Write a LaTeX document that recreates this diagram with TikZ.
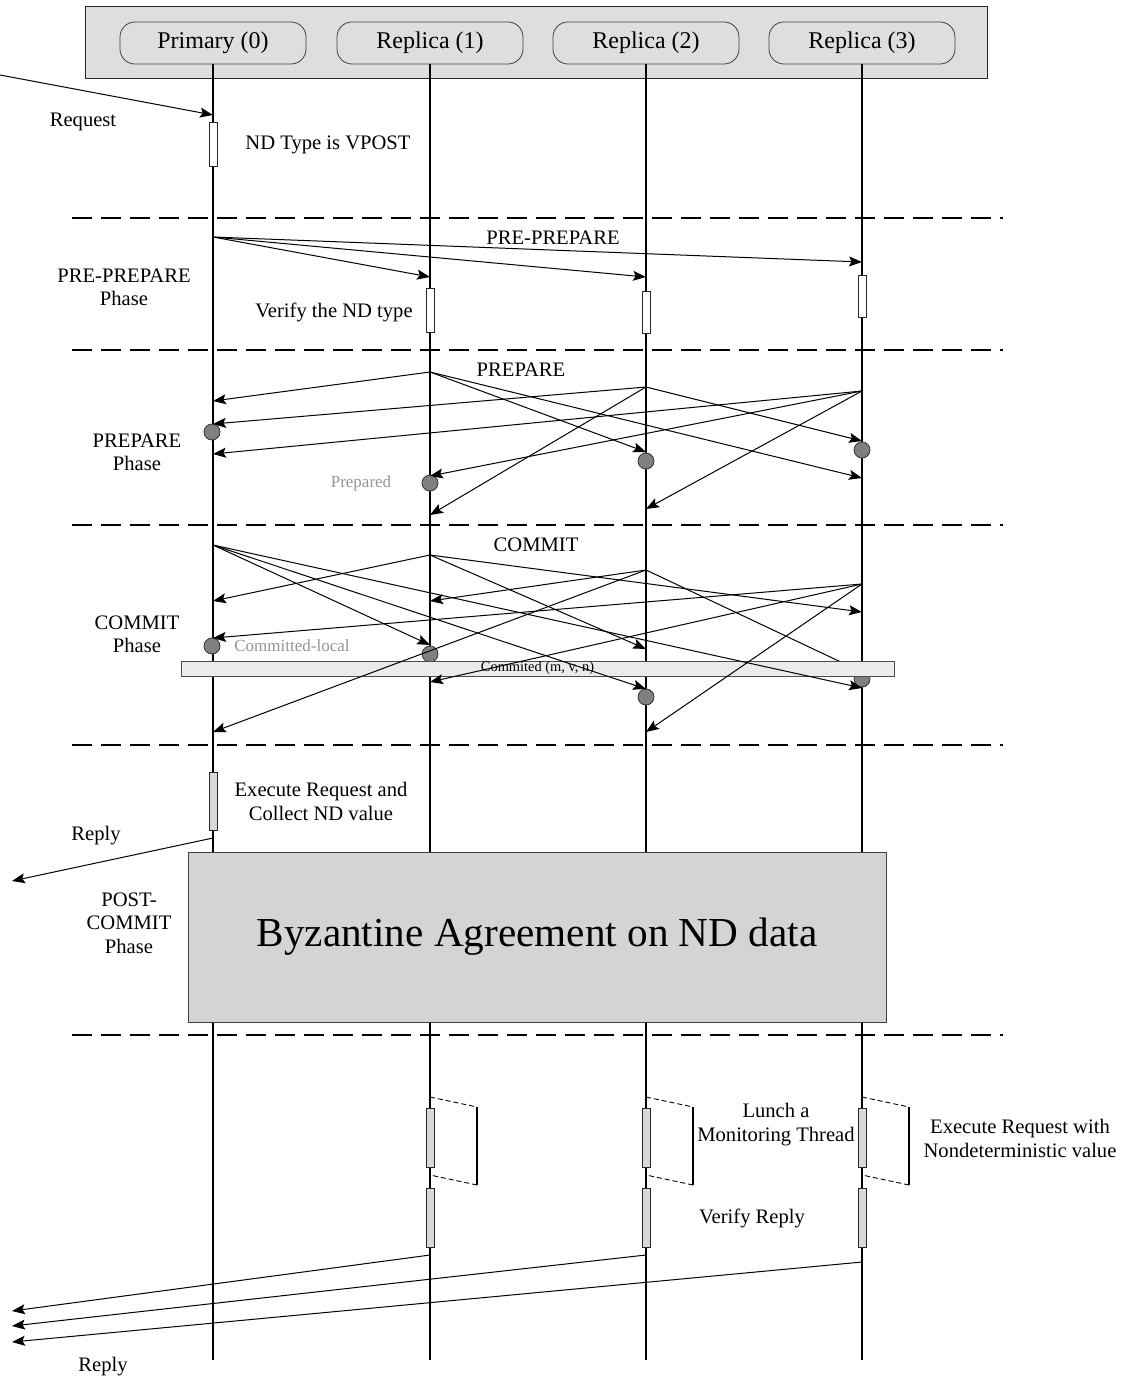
\documentclass[tikz,border=0pt]{standalone}
\usepackage{fontspec}
\setmainfont{Liberation Serif}
\usetikzlibrary{arrows.meta}
\begin{document}
\begin{tikzpicture}[x=0.5pt,y=-0.5pt,
  lifeline/.style={line width=0.75pt,black},
  msg/.style={line width=0.5pt,-{Stealth[length=6.5pt,width=5pt,inset=1.3pt]}},
  phaseline/.style={line width=1pt,dash pattern=on 10pt off 4.5pt},
  actor/.style={draw=black!75,fill=black!13,rounded corners=7.5pt,minimum width=93pt,minimum height=21pt,inner sep=0,font=\fontsize{12}{14}\selectfont},
  actw/.style={draw=black!85,fill=white,line width=0.5pt,minimum width=4pt,inner sep=0},
  actg/.style={draw=black!85,fill=black!15,line width=0.5pt,minimum width=4pt,inner sep=0},
  dot/.style={circle,draw=black!80,fill=black!50,line width=0.4pt,minimum size=8pt,inner sep=0},
  lbl/.style={inner sep=0,align=center,font=\fontsize{10.3}{12}\selectfont},
  note/.style={inner sep=0,text=black!42,font=\fontsize{8.5}{10}\selectfont},
  brk/.style={line width=0.45pt,dash pattern=on 2.5pt off 1.5pt},
  brkside/.style={line width=0.6pt}]
\useasboundingbox (0,0) rectangle (1129,1380);

% participants
\node[draw=black!85,fill=black!13,line width=0.5pt,minimum width=451pt,minimum height=36pt,inner sep=0] (hdr) at (536,43) {};
\node[actor] (a0) at (213,43) {Primary (0)};
\node[actor] (a1) at (430,43) {Replica (1)};
\node[actor] (a2) at (646,43) {Replica (2)};
\node[actor] (a3) at (862,43) {Replica (3)};
\coordinate (e0) at (213,1360);
\coordinate (e1) at (430,1360);
\coordinate (e2) at (646,1360);
\coordinate (e3) at (862,1360);
\foreach \i in {0,...,3} \draw[lifeline] (a\i.south) -- (e\i);

% phase separators
\foreach \k/\yy in {1/218,2/350,3/525,4/745,5/1035} {
  \coordinate (sep\k-l) at (72,\yy);
  \coordinate (sep\k-r) at (1003,\yy);
  \draw[phaseline] (sep\k-l) -- (sep\k-r);
}

% request
\coordinate (client-in) at (0,75);
\coordinate (req-p) at (213,115);
\draw[msg] (client-in) -- (req-p);
\node[lbl] (t-req) at (83,122) {Request};
\node[actw,minimum height=22pt] (act-nd) at (213,145) {};
\node[lbl] (t-nd) at (328,145) {ND Type is VPOST};

% PRE-PREPARE
\coordinate (pp-src) at (213,237);
\coordinate (pp-r1) at (430,277);
\coordinate (pp-r2) at (646,277);
\coordinate (pp-r3) at (862,262);
\foreach \t in {r1,r2,r3} \draw[msg] (pp-src) -- (pp-\t);
\node[actw,minimum height=22pt] (act-v1) at (430,310) {};
\node[actw,minimum height=21pt] (act-v2) at (646,312) {};
\node[actw,minimum height=21pt] (act-v3) at (862,296) {};
\node[lbl] (t-pp) at (553,238) {PRE-PREPARE};
\node[lbl,font=\fontsize{10.3}{11.5}\selectfont] (t-ppph) at (124,287) {PRE-PREPARE\\Phase};
\node[lbl] (t-ver) at (334,312) {Verify the ND type};

% PREPARE
\coordinate (pr-s1) at (430,372);
\coordinate (pr-s2) at (646,387);
\coordinate (pr-s3) at (862,391);
\coordinate (pr-1to0) at (213,401);
\coordinate (pr-1to2) at (646,452);
\coordinate (pr-1to3) at (862,478);
\coordinate (pr-2to0) at (213,424);
\coordinate (pr-2to1) at (430,515);
\coordinate (pr-2to3) at (862,441);
\coordinate (pr-3to0) at (213,454);
\coordinate (pr-3to1) at (430,476);
\coordinate (pr-3to2) at (646,509);
\node[dot] (pd0) at (212,432) {};
\node[dot] (pd1) at (430,483) {};
\node[dot] (pd2) at (646,461) {};
\node[dot] (pd3) at (862,450) {};
\foreach \s/\t in {1/0,1/2,1/3,2/0,2/1,2/3,3/0,3/1,3/2}
  \draw[msg] (pr-s\s) -- (pr-\s to\t);
\node[lbl] (t-pr) at (521,370) {PREPARE};
\node[lbl,font=\fontsize{10.3}{11.5}\selectfont] (t-prph) at (137,452) {PREPARE\\Phase};
\node[note] (t-prepared) at (361,483) {Prepared};

% COMMIT
\coordinate (cm-s0) at (213,545);
\coordinate (cm-s1) at (430,555);
\coordinate (cm-s2) at (646,570);
\coordinate (cm-s3) at (862,584);
\coordinate (cm-0to1) at (430,645);
\coordinate (cm-0to2) at (646,689);
\coordinate (cm-0to3) at (862,688);
\coordinate (cm-1to0) at (213,601);
\coordinate (cm-1to2) at (646,649);
\coordinate (cm-1to3) at (862,612);
\coordinate (cm-2to0) at (213,732);
\coordinate (cm-2to1) at (430,601);
\coordinate (cm-2to3) at (862,672);
\coordinate (cm-3to0) at (213,638);
\coordinate (cm-3to1) at (430,682);
\coordinate (cm-3to2) at (646,732);
\draw[msg] (cm-s2) -- (cm-2to3);
\node[dot] (cd0) at (212,646) {};
\node[dot] (cd1) at (430,654) {};
\node[dot] (cd2) at (646,697) {};
\node[dot] (cd3) at (862,679) {};
\node[draw=black!70,fill=black!8,line width=0.5pt,minimum width=356.5pt,minimum height=7.5pt,inner sep=0,font=\fontsize{7.2}{8}\selectfont] (cbar) at (537.5,668.5) {Commited (m, v, n)};
\foreach \s/\t in {0/1,0/2,0/3,1/0,1/2,1/3,2/0,2/1,3/0,3/1,3/2}
  \draw[msg] (cm-s\s) -- (cm-\s to\t);
\node[lbl] (t-cm) at (536,545) {COMMIT};
\node[lbl,font=\fontsize{10.3}{11.5}\selectfont] (t-cmph) at (137,634) {COMMIT\\Phase};
\node[note] (t-cl) at (292,646) {Committed-local};

% POST-COMMIT
\node[actg,minimum height=29pt] (act-ex) at (213,801) {};
\node[lbl] (t-ex) at (321,801) {Execute Request and\\Collect ND value};
\coordinate (rp-s) at (213,838);
\coordinate (rp-e) at (12,881);
\draw[msg] (rp-s) -- (rp-e);
\node[lbl] (t-rp1) at (96,836) {Reply};
\node[draw=black!75,fill=black!17,line width=0.5pt,minimum width=349pt,minimum height=85pt,inner sep=0,font=\fontsize{20.6}{24}\selectfont] (ba) at (537,937) {Byzantine Agreement on ND data};
\node[lbl,font=\fontsize{10.3}{11.8}\selectfont] (t-pcph) at (129,923) {POST-\\COMMIT\\Phase};

% execution on the replicas
\foreach \i/\xx in {1/430,2/646,3/862} {
  \node[actg,minimum height=29.5pt] (run\i) at (\xx,1137.5) {};
  \node[actg,minimum height=29.5pt] (chk\i) at (\xx,1217.5) {};
  \coordinate (bk\i-a) at (\xx,1097);
  \coordinate (bk\i-b) at (\xx+47,1107);
  \coordinate (bk\i-c) at (\xx+47,1185);
  \coordinate (bk\i-d) at (\xx,1175);
  \draw[brk] (bk\i-a) -- (bk\i-b);
  \draw[brkside] (bk\i-b) -- (bk\i-c);
  \draw[brk] (bk\i-c) -- (bk\i-d);
}
\node[lbl] (t-mon) at (776,1125) {Lunch a\\Monitoring Thread};
\node[lbl] (t-exnd) at (1020,1138) {Execute Request with\\Nondeterministic value};
\node[lbl] (t-vr) at (752,1218) {Verify Reply};

% replies
\coordinate (rr-s1) at (430,1255);
\coordinate (rr-s2) at (646,1255);
\coordinate (rr-s3) at (862,1262);
\coordinate (rr-e1) at (12,1311);
\coordinate (rr-e2) at (12,1326);
\coordinate (rr-e3) at (12,1342);
\foreach \i in {1,2,3} \draw[msg] (rr-s\i) -- (rr-e\i);
\node[lbl] (t-rp2) at (103,1367) {Reply};
\end{tikzpicture}
\end{document}
